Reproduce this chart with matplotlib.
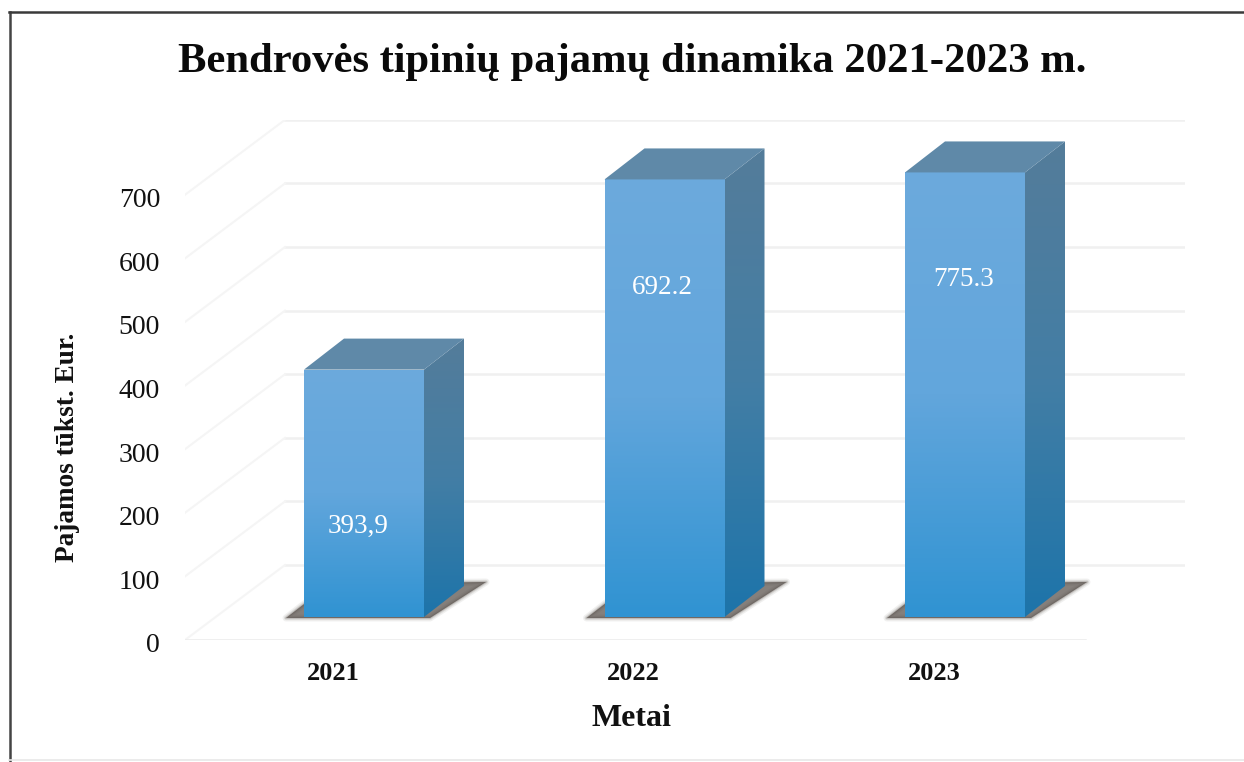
import numpy as np
import matplotlib
matplotlib.use('Agg')
import matplotlib.pyplot as plt
from matplotlib.colors import LinearSegmentedColormap
from matplotlib.lines import Line2D
from matplotlib.patches import Polygon
from matplotlib.transforms import ScaledTranslation

years = ['2021', '2022', '2023']
bar_heights = [389, 688, 699]  # as drawn against the axis
bar_labels = ['393,9', '692.2', '775.3']  # as printed on the bars
y_ticks = [0, 100, 200, 300, 400, 500, 600, 700]

plt.rcParams['font.family'] = ['Liberation Serif', 'DejaVu Serif']

W, H = 1244, 762
PX_X = 1 / 300.5      # category units per pixel
PX_Y = 1 / 0.636      # value units per pixel


def gradient_face(ax, corners, colors, zorder):
    # vertical gradient clipped to a polygon
    corners = np.array(corners)
    cmap = LinearSegmentedColormap.from_list('face', colors)
    grad = np.linspace(0, 1, 256).reshape(-1, 1)
    im = ax.imshow(grad, cmap=cmap, aspect='auto', zorder=zorder, origin='upper',
                   extent=(corners[:, 0].min(), corners[:, 0].max(),
                           corners[:, 1].min(), corners[:, 1].max()))
    poly = Polygon(corners, closed=True, transform=ax.transData, fc='none', ec='none')
    ax.add_patch(poly)
    im.set_clip_path(poly)


fig = plt.figure(figsize=(W / 100, H / 100), dpi=100)
ax = fig.add_axes([185 / W, 1 - 640 / H, 1000 / W, 520 / H])

# depth of the 3d box
wall_dx, wall_dy = 100 * PX_X, 75 * PX_Y
x0 = (185 - 333) * PX_X
x1 = (1085 - 333) * PX_X

# floor, walls and gridlines
grid_color = '#f0f0f0'
side_color = '#f5f5f5'
for v in y_ticks:
    ax.plot([x0 + wall_dx, x1 + wall_dx], [v + wall_dy, v + wall_dy], color=grid_color, lw=1.8, zorder=1)
    ax.plot([x0, x0 + wall_dx], [v, v + wall_dy], color=side_color, lw=1.5, zorder=1)
ax.plot([x0, x1], [0, 0], color='#ebebeb', lw=1.8, zorder=1)

# bars
bar_w = 120 * PX_X
bar_off = 31 * PX_X
base = 23 * PX_Y
dx, dy = 40 * PX_X, 31 * PX_Y
label_x = [0.45, 0.483, 0.49]
label_y = [0.365, 0.753, 0.76]

for i, h in enumerate(bar_heights):
    l = i + bar_off - bar_w / 2
    r = l + bar_w
    b = base
    t = base + h

    # soft shadow on the floor
    shadow = [(l - 18 * PX_X, b - 1 * PX_Y), (l + 26 * PX_X, b + 33 * PX_Y),
              (l + 182 * PX_X, b + 35 * PX_Y), (l + 126 * PX_X, b - 1 * PX_Y)]
    for lw, a in [(5, 0.08), (3, 0.12), (1.5, 0.2), (0, 0.5)]:
        ax.add_patch(Polygon(shadow, closed=True, fc='#4c443e', ec='#4c443e', lw=lw, alpha=a,
                             joinstyle='round', zorder=2))

    gradient_face(ax, [(l, b), (r, b), (r, t), (l, t)], ['#6caadd', '#62a6dc', '#3093d2'], 3)
    gradient_face(ax, [(r, b), (r + dx, b + dy), (r + dx, t + dy), (r, t)],
                  ['#547c9a', '#437ea5', '#1d74aa'], 3)
    ax.add_patch(Polygon([(l, t), (r, t), (r + dx, t + dy), (l + dx, t + dy)], closed=True,
                         fc='#5f89a8', ec='none', zorder=3))
    ax.text(l + bar_w * label_x[i], b + h * label_y[i], bar_labels[i], color='white', fontsize=19.5,
            ha='center', va='center', zorder=4)

ax.set_xlim(x0, (1185 - 333) * PX_X)
ax.set_ylim(0, 520 * PX_Y)
for s in ax.spines.values():
    s.set_visible(False)
ax.patch.set_visible(False)

ax.set_yticks(y_ticks)
ax.set_yticklabels([str(v) for v in y_ticks], fontsize=20, color='#111111')
ax.set_xticks(range(len(years)))
ax.set_xticklabels(years, fontsize=19, fontweight='bold', color='#111111')
ax.tick_params(axis='y', length=0, pad=18)
ax.tick_params(axis='x', length=0, pad=16)
# the scanned tick labels sit a little below their gridlines
shift = ScaledTranslation(0, -3 / 100, fig.dpi_scale_trans)
for lab in ax.get_yticklabels():
    lab.set_transform(lab.get_transform() + shift)

fig.text(632 / W, 1 - 719 / H, 'Metai', fontsize=23, fontweight='bold', ha='center', va='center', color='#111111')
fig.text(68 / W, 1 - 447 / H, 'Pajamos tūkst. Eur.', fontsize=19.6, fontweight='bold', rotation=90,
         ha='center', va='center', color='#111111')
fig.text(632 / W, 1 - 62 / H, 'Bendrovės tipinių pajamų dinamika 2021-2023 m.', fontsize=30.7, fontweight='bold',
         ha='center', va='center', color='#0a0a0a')

# scanned page frame
fig.add_artist(Line2D([9.5 / W, 9.5 / W], [0, 1 - 12 / H], color='#444444', lw=1.8))
fig.add_artist(Line2D([9 / W, 1], [1 - 12 / H, 1 - 12 / H], color='#3a3a3a', lw=1.8))
fig.add_artist(Line2D([9 / W, 1], [1 - 760 / H, 1 - 760 / H], color='#e8e8e8', lw=1.2))

fig.savefig('out.png', dpi=100)
